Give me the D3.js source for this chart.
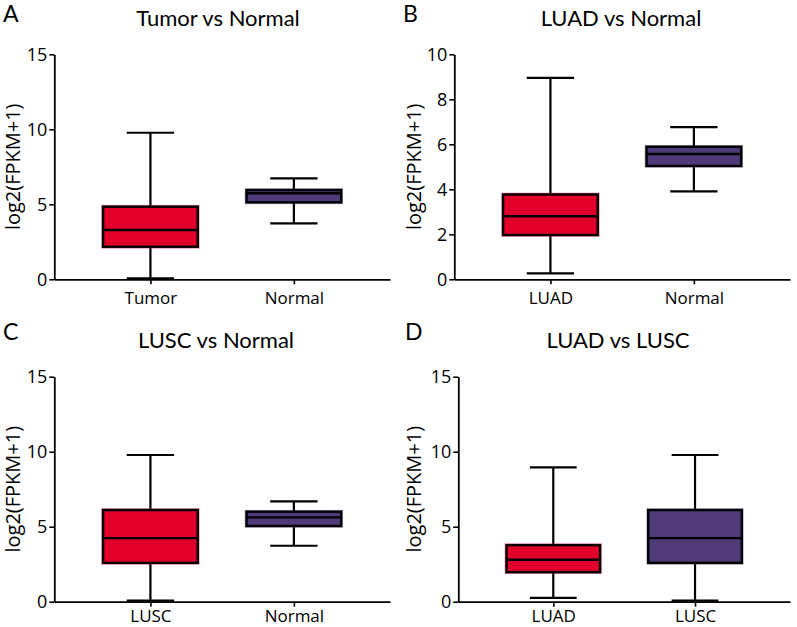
<!DOCTYPE html>
<html>
<head>
<meta charset="utf-8">
<script src="https://cdn.jsdelivr.net/npm/d3@7"></script>
<style>
  html, body { margin: 0; padding: 0; background: #fff; }
  svg { display: block; }
  text { fill: #000; }
</style>
</head>
<body>
<div id="chart"></div>
<script>
// ---- data ----
const panelLetters = ["A", "B", "C", "D"];
const panelTitles = ["Tumor vs Normal", "LUAD vs Normal", "LUSC vs Normal", "LUAD vs LUSC"];
const groupNames = [["Tumor", "Normal"], ["LUAD", "Normal"], ["LUSC", "Normal"], ["LUAD", "LUSC"]];
const groupColors = [["red", "purple"], ["red", "purple"], ["red", "purple"], ["red", "purple"]];
const yMaxValues = [15, 10, 15, 15];
const yTickValues = [[0, 5, 10, 15], [0, 2, 4, 6, 8, 10], [0, 5, 10, 15], [0, 5, 10, 15]];
const yLabel = "log2(FPKM+1)";
// box stats: [min, q1, median, q3, max]
const tumorStats  = [0.07, 2.17, 3.29, 4.84, 9.77];
const normalStatsA = [3.73, 5.13, 5.74, 5.95, 6.73];
const luadStats   = [0.26, 1.97, 2.80, 3.77, 8.95];
const normalStatsB = [3.91, 5.04, 5.57, 5.89, 6.76];
const luscStats   = [0.07, 2.59, 4.24, 6.11, 9.78];
const normalStatsC = [3.73, 5.05, 5.62, 6.00, 6.69];
const panelStats = [
  [tumorStats, normalStatsA],
  [luadStats, normalStatsB],
  [luscStats, normalStatsC],
  [luadStats, luscStats]
];

// ---- layout ----
const W = 797, H = 627;
const palette = { red: "#E0002A", purple: "#4E3979" };
const bodyFont = "'Open Sans', sans-serif";
const titleFont = "Lato, 'Open Sans', sans-serif";
const layout = [
  { ox: 0,   oy: 0,   axisX: 54.3,  top: 54.3,  bottom: 279.3, titleX: 218, letterX: 3,   labX: 19.5, xPad: 7.5 },
  { ox: 400, oy: 0,   axisX: 454.3, top: 54.3,  bottom: 279.3, titleX: 621, letterX: 403, labX: 420.5, xPad: 7.5 },
  { ox: 0,   oy: 310, axisX: 54.3,  top: 376.7, bottom: 601.7, titleX: 216, letterX: 3,   labX: 19.5, xPad: 3.3 },
  { ox: 400, oy: 310, axisX: 458.3, top: 376.7, bottom: 601.7, titleX: 618, letterX: 405, labX: 420.5, xPad: 3.3 }
];

const svg = d3.select("#chart").append("svg")
  .attr("width", W).attr("height", H);

panelTitles.forEach((title, i) => {
  const L = layout[i];
  const g = svg.append("g");
  const axisEnd = L.ox + 390;

  const y = d3.scaleLinear().domain([0, yMaxValues[i]]).range([L.bottom, L.top]);
  const x = d3.scalePoint().domain(groupNames[i]).range([L.axisX, axisEnd]).padding(0.67);
  const step = x.step();
  const boxW = step * 0.66;
  const capW = boxW * 0.5;

  // panel letter
  g.append("text")
    .attr("x", L.letterX).attr("y", L.oy + (i < 2 ? 21.5 : 29.5))
    .attr("font-family", titleFont)
    .attr("font-size", 23)
    .text(panelLetters[i]);

  // title
  g.append("text")
    .attr("x", L.titleX).attr("y", L.top - 28.6)
    .attr("text-anchor", "middle")
    .attr("font-family", titleFont)
    .attr("font-size", 22)
    .text(title);

  // y label
  const yMid = (L.top + L.bottom) / 2;
  g.append("text")
    .attr("transform", `translate(${L.labX},${yMid}) rotate(-90)`)
    .attr("text-anchor", "middle")
    .attr("font-family", bodyFont)
    .attr("font-size", 20)
    .text(yLabel);

  // boxes
  const stats = panelStats[i];
  groupNames[i].forEach((name, j) => {
    const s = stats[j];
    const cx = x(name);
    const col = palette[groupColors[i][j]];
    const bg = g.append("g");
    // whiskers
    bg.append("line")
      .attr("x1", cx).attr("x2", cx)
      .attr("y1", y(s[0])).attr("y2", y(s[1]))
      .attr("stroke", "#000").attr("stroke-width", 2.2);
    bg.append("line")
      .attr("x1", cx).attr("x2", cx)
      .attr("y1", y(s[3])).attr("y2", y(s[4]))
      .attr("stroke", "#000").attr("stroke-width", 2.2);
    [s[0], s[4]].forEach(v => {
      bg.append("line")
        .attr("x1", cx - capW / 2).attr("x2", cx + capW / 2)
        .attr("y1", y(v)).attr("y2", y(v))
        .attr("stroke", "#000").attr("stroke-width", 2.2);
    });
    // box outer colored edge
    bg.append("rect")
      .attr("x", cx - boxW / 2).attr("y", y(s[3]))
      .attr("width", boxW).attr("height", y(s[1]) - y(s[3]))
      .attr("fill", col).attr("stroke", col).attr("stroke-opacity", 0.5).attr("stroke-width", 3.6);
    bg.append("rect")
      .attr("x", cx - boxW / 2).attr("y", y(s[3]))
      .attr("width", boxW).attr("height", y(s[1]) - y(s[3]))
      .attr("fill", col).attr("stroke", "#000").attr("stroke-width", 2.4);
    bg.append("line")
      .attr("x1", cx - boxW / 2).attr("x2", cx + boxW / 2)
      .attr("y1", y(s[2])).attr("y2", y(s[2]))
      .attr("stroke", "#000").attr("stroke-width", 2.4);
  });

  // y axis
  const yAxis = g.append("g")
    .attr("transform", `translate(${L.axisX},0)`)
    .call(d3.axisLeft(y).tickValues(yTickValues[i]).tickSize(5).tickSizeOuter(0).tickPadding(2));
  yAxis.select(".domain").attr("stroke-width", 1.8);
  yAxis.selectAll(".tick line").attr("stroke-width", 1.6);
  yAxis.selectAll(".tick text").attr("font-size", 18).attr("font-family", bodyFont).attr("fill", "#000");

  // x axis
  const xAxis = g.append("g")
    .attr("transform", `translate(0,${L.bottom})`)
    .call(d3.axisBottom(x).tickSize(5).tickSizeOuter(0).tickPadding(L.xPad));
  xAxis.select(".domain").attr("stroke-width", 1.8);
  xAxis.selectAll(".tick line").attr("stroke-width", 1.6);
  xAxis.selectAll(".tick text").attr("font-size", 17).attr("font-family", bodyFont).attr("fill", "#000");
});
</script>
</body>
</html>
